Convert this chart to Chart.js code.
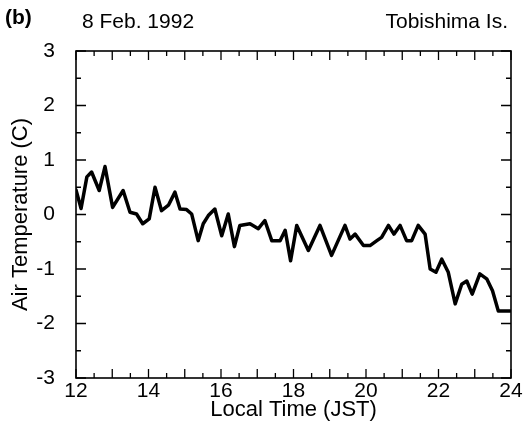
<!DOCTYPE html>
<html>
<head>
<meta charset="utf-8">
<script src="https://cdn.jsdelivr.net/npm/chart.js@4"></script>
<style>
  html, body { margin: 0; padding: 0; background: #fff; }
  #wrap { position: relative; width: 530px; height: 439px; }
</style>
</head>
<body>
<div id="wrap"><canvas id="myChart" width="530" height="439"></canvas></div>
<script>
// local time (hours, JST) and air temperature (C)
var hours = [12.0, 12.14, 12.30, 12.43, 12.64, 12.80, 13.01, 13.30, 13.49, 13.67,
             13.84, 14.02, 14.18, 14.36, 14.55, 14.73, 14.87, 15.05, 15.19, 15.37,
             15.51, 15.65, 15.83, 16.02, 16.20, 16.37, 16.52, 16.80, 17.03, 17.21,
             17.40, 17.63, 17.77, 17.92, 18.09, 18.41, 18.73, 19.05, 19.42, 19.56,
             19.70, 19.93, 20.11, 20.30, 20.43, 20.62, 20.77, 20.94, 21.12, 21.26,
             21.44, 21.63, 21.77, 21.93, 22.09, 22.27, 22.46, 22.64, 22.78, 22.93,
             23.14, 23.33, 23.49, 23.65, 23.97];
var temps = [0.45, 0.11, 0.69, 0.78, 0.44, 0.88, 0.13, 0.44, 0.04, 0.01,
             -0.17, -0.08, 0.50, 0.07, 0.17, 0.41, 0.10, 0.09, 0.01, -0.48,
             -0.17, -0.02, 0.10, -0.39, 0.01, -0.59, -0.20, -0.17, -0.26, -0.11,
             -0.48, -0.48, -0.29, -0.85, -0.20, -0.66, -0.20, -0.75, -0.20, -0.45,
             -0.36, -0.57, -0.57, -0.48, -0.42, -0.20, -0.36, -0.20, -0.48, -0.48,
             -0.20, -0.36, -1.00, -1.06, -0.82, -1.06, -1.64, -1.28, -1.22, -1.46,
             -1.09, -1.18, -1.40, -1.77, -1.77];
var xRange = [12, 24];
var yRange = [-3, 3];
var panelLabel = '(b)';
var dateLabel = '8 Feb. 1992';
var siteLabel = 'Tobishima Is.';

var FONT = "'Liberation Sans', Arial, Helvetica, sans-serif";
Chart.defaults.font.family = FONT;
Chart.defaults.color = '#000';

// frame, inward ticks on all four sides, and header texts
var framePlugin = {
    id: 'frame',
    afterDraw: function (chart) {
        var ctx = chart.ctx, a = chart.chartArea;
        var xs = chart.scales.x, ys = chart.scales.y;
        ctx.save();
        ctx.strokeStyle = '#000';
        ctx.lineWidth = 1.6;
        ctx.strokeRect(a.left, a.top, a.right - a.left, a.bottom - a.top);
        ctx.lineWidth = 1.3;
        ctx.beginPath();
        for (var h = xRange[0]; h <= xRange[1]; h += 0.5) {
            var px = xs.getPixelForValue(h);
            var len = (h % 1 === 0) ? 9 : 5;
            ctx.moveTo(px, a.bottom); ctx.lineTo(px, a.bottom - len);
            ctx.moveTo(px, a.top); ctx.lineTo(px, a.top + len);
        }
        for (var v = yRange[0]; v <= yRange[1]; v += 0.5) {
            var py = ys.getPixelForValue(v);
            var l2 = (v % 1 === 0) ? 10 : 5;
            ctx.moveTo(a.left, py); ctx.lineTo(a.left + l2, py);
            ctx.moveTo(a.right, py); ctx.lineTo(a.right - l2, py);
        }
        ctx.stroke();

        ctx.fillStyle = '#000';
        ctx.textBaseline = 'middle';
        ctx.font = 'bold 21px ' + FONT;
        ctx.textAlign = 'left';
        ctx.fillText(panelLabel, 5, 18);
        ctx.font = '21px ' + FONT;
        ctx.fillText(dateLabel, 82, 22);
        ctx.textAlign = 'right';
        ctx.fillText(siteLabel, 508, 22);
        ctx.restore();
    }
};

var ctx = document.getElementById('myChart').getContext('2d');
var chart = new Chart(ctx, {
    type: 'line',
    data: {
        datasets: [
            {
                label: 'Air Temperature',
                data: hours.map(function (h, i) { return {x: h, y: temps[i]}; }),
                borderColor: '#000',
                borderWidth: 3.5,
                borderJoinStyle: 'round',
                borderCapStyle: 'round',
                pointRadius: 0,
                tension: 0,
                fill: false
            }
        ]
    },
    options: {
        responsive: false,
        animation: false,
        layout: { padding: { top: 51, right: 19, left: 0, bottom: 0 } },
        plugins: {
            legend: { display: false },
            tooltip: { enabled: false }
        },
        scales: {
            x: {
                type: 'linear',
                min: xRange[0],
                max: xRange[1],
                grid: { display: false, drawTicks: false },
                border: { display: false },
                ticks: { stepSize: 2, padding: 1, font: { size: 21 }, maxRotation: 0 },
                title: {
                    display: true,
                    text: 'Local Time (JST)',
                    font: { size: 22 },
                    padding: { top: 0, bottom: 16 }
                },
                afterFit: function (scale) { scale.height = 61; }
            },
            y: {
                min: yRange[0],
                max: yRange[1],
                grid: { display: false, drawTicks: false },
                border: { display: false },
                ticks: { stepSize: 1, padding: 21, font: { size: 21 } },
                title: {
                    display: true,
                    text: 'Air Temperature (C)',
                    font: { size: 22 },
                    padding: { top: 8, bottom: 0 }
                },
                afterFit: function (scale) { scale.width = 76; }
            }
        }
    },
    plugins: [framePlugin]
});
</script>
</body>
</html>
